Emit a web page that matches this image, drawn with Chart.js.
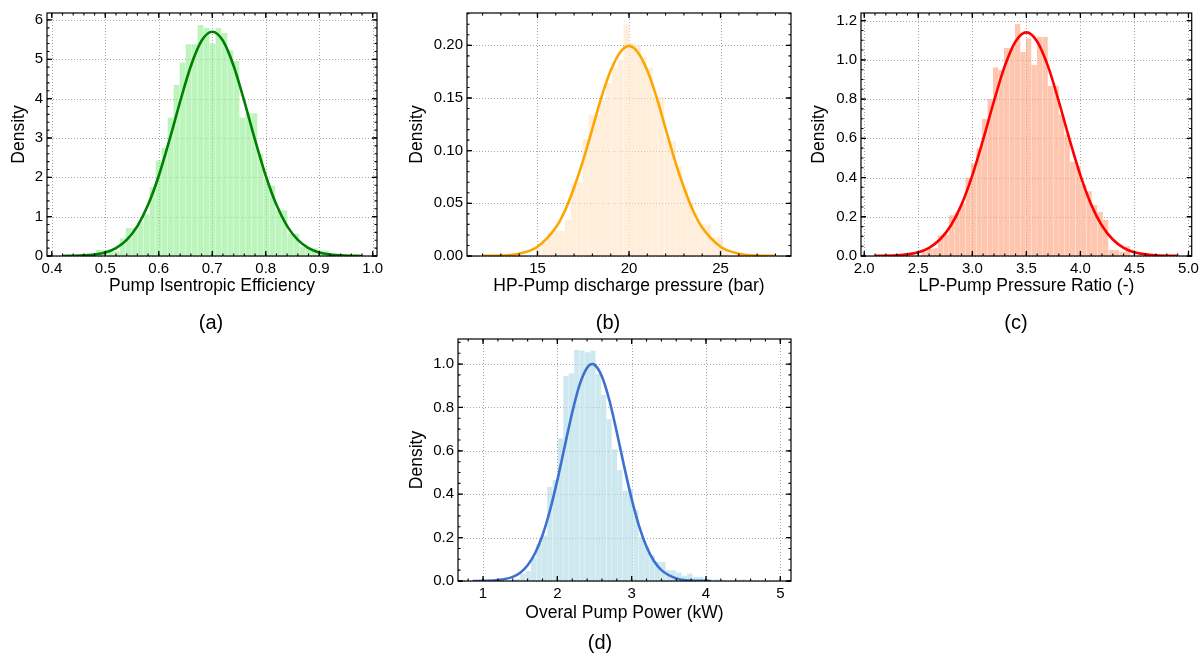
<!DOCTYPE html>
<html lang="en">
<head>
    <meta charset="UTF-8">
    <title>Pump distributions</title>
    <script src="https://cdn.jsdelivr.net/npm/chart.js"></script>
    <style>
        body { margin: 0; background: #fff; }
        #wrap { position: relative; width: 1203px; height: 655px; }
        canvas { position: absolute; left: 0; top: 0; }
        .cap {
            position: absolute;
            font-family: 'Liberation Sans', Arial, sans-serif;
            font-size: 20px;
            line-height: 1;
            color: #000;
            transform: translate(-50%, -50%);
        }
    </style>
</head>
<body>
<div id="wrap">
    <canvas id="chartA" width="1203" height="655"></canvas>
    <canvas id="chartB" width="1203" height="655"></canvas>
    <canvas id="chartC" width="1203" height="655"></canvas>
    <canvas id="chartD" width="1203" height="655"></canvas>
    <div class="cap" style="left:211px; top:322px;">(a)</div>
    <div class="cap" style="left:608px; top:322px;">(b)</div>
    <div class="cap" style="left:1016px; top:322px;">(c)</div>
    <div class="cap" style="left:600px; top:642px;">(d)</div>
</div>

<script>
    // ---- (a) pump isentropic efficiency ----
    const effBinStart = 0.4709;
    const effBinWidth = 0.0112;
    const effDensity = [0.03, 0.16, 0.16, 0.12, 0.12, 0.45, 0.71, 0.71, 0.86, 1.07,
        1.75, 2.43, 2.75, 3.52, 4.35, 4.92, 5.38, 5.38, 5.87, 5.80,
        5.40, 5.80, 5.67, 5.23, 4.96, 3.52, 3.63, 3.63, 2.60, 1.95,
        1.79, 1.16, 1.16, 0.57, 0.57, 0.23, 0.23, 0.20, 0.14, 0.14, 0.05];
    const effCurveX = [0.42, 0.45, 0.48, 0.50, 0.52, 0.54, 0.56, 0.58, 0.60, 0.62, 0.64, 0.66, 0.68, 0.70,
        0.72, 0.74, 0.76, 0.78, 0.80, 0.82, 0.84, 0.86, 0.88, 0.90, 0.92, 0.95, 0.98];
    const effCurveY = [0.00, 0.01, 0.04, 0.09, 0.20, 0.41, 0.76, 1.30, 2.04, 2.95, 3.93, 4.83, 5.47, 5.70,
        5.47, 4.83, 3.93, 2.95, 2.04, 1.30, 0.76, 0.41, 0.20, 0.09, 0.04, 0.01, 0.00];
    const effXTicks = [0.4, 0.5, 0.6, 0.7, 0.8, 0.9, 1.0];
    const effYTicks = [0, 1, 2, 3, 4, 5, 6];

    // ---- (b) HP-pump discharge pressure ----
    const hpBinStart = 14.90;
    const hpBinWidth = 0.32;
    const hpDensity = [0.008, 0.012, 0.022, 0.024, 0.024, 0.034, 0.068, 0.070, 0.111, 0.134,
        0.134, 0.148, 0.164, 0.179, 0.186, 0.220, 0.202, 0.200, 0.189, 0.179,
        0.151, 0.151, 0.113, 0.109, 0.085, 0.065, 0.050, 0.033, 0.030, 0.030,
        0.018, 0.018, 0.006];
    const hpCurveX = [12, 13, 14, 15, 16, 16.5, 17, 17.5, 18, 18.5, 19, 19.5, 20,
        20.5, 21, 21.5, 22, 22.5, 23, 23.5, 24, 25, 26, 27, 28];
    const hpCurveY = [0.0001, 0.0004, 0.0022, 0.0088, 0.027, 0.043, 0.065, 0.091, 0.121, 0.151, 0.176, 0.193, 0.1995,
        0.193, 0.176, 0.151, 0.121, 0.091, 0.065, 0.043, 0.027, 0.0088, 0.0022, 0.0004, 0.0001];
    const hpXTicks = [15, 20, 25];
    const hpYTicks = [0, 0.05, 0.10, 0.15, 0.20];

    // ---- (c) LP-pump pressure ratio ----
    const lpBinStart = 2.5293;
    const lpBinWidth = 0.0509;
    const lpDensity = [0.02, 0.037, 0.04, 0.106, 0.11, 0.208, 0.22, 0.268, 0.40, 0.47,
        0.55, 0.70, 0.80, 0.963, 0.95, 1.06, 1.06, 1.183, 1.04, 1.11,
        0.975, 1.118, 1.118, 0.868, 0.868, 0.72, 0.62, 0.48, 0.46, 0.365,
        0.33, 0.26, 0.225, 0.184, 0.03, 0.03, 0.02, 0.05];
    const lpCurveX = [2.1, 2.3, 2.5, 2.6, 2.7, 2.8, 2.9, 3.0, 3.1, 3.2, 3.3, 3.4, 3.5,
        3.6, 3.7, 3.8, 3.9, 4.0, 4.1, 4.2, 4.3, 4.4, 4.5, 4.7, 4.9];
    const lpCurveY = [0.0004, 0.003, 0.019, 0.042, 0.084, 0.154, 0.262, 0.411, 0.593, 0.789, 0.968, 1.094, 1.14,
        1.094, 0.968, 0.789, 0.593, 0.411, 0.262, 0.154, 0.084, 0.042, 0.019, 0.003, 0.0004];
    const lpXTicks = [2.0, 2.5, 3.0, 3.5, 4.0, 4.5, 5.0];
    const lpYTicks = [0, 0.2, 0.4, 0.6, 0.8, 1.0, 1.2];

    // ---- (d) overall pump power ----
    const powBinStart = 1.428;
    const powBinWidth = 0.0725;
    const powDensity = [0.01, 0.034, 0.046, 0.11, 0.17, 0.21, 0.434, 0.465, 0.658, 0.946,
        0.958, 1.066, 1.063, 1.054, 1.062, 0.955, 0.858, 0.746, 0.607, 0.512,
        0.416, 0.424, 0.327, 0.203, 0.160, 0.119, 0.088, 0.088, 0.049, 0.049,
        0.039, 0.025, 0.034, 0.018, 0.018, 0.010, 0.004, 0.008, 0.004, 0,
        0, 0.004, 0.008, 0.004];
    const powCurveX = [0.86, 1.0, 1.2, 1.4, 1.5, 1.6, 1.7, 1.8, 1.9, 2.0, 2.1, 2.2, 2.3, 2.4, 2.47,
        2.5, 2.6, 2.7, 2.8, 2.9, 3.0, 3.1, 3.2, 3.3, 3.4, 3.6, 3.8, 4.07];
    const powCurveY = [0.0001, 0.0006, 0.004, 0.019, 0.038, 0.073, 0.128, 0.211, 0.325, 0.465, 0.622, 0.777, 0.905, 0.983, 1.0,
        0.997, 0.943, 0.833, 0.686, 0.527, 0.378, 0.253, 0.158, 0.092, 0.050, 0.012, 0.002, 0.0001];
    const powXTicks = [1, 2, 3, 4, 5];
    const powYTicks = [0, 0.2, 0.4, 0.6, 0.8, 1.0];

    // ---- layout / style ----
    const FONT = "'Liberation Sans', Arial, sans-serif";
    const TICK_SIZE = 15;
    const TITLE_SIZE = 17.5;
    const TITLE_PAD = 4;
    Chart.defaults.font.family = FONT;
    Chart.defaults.color = '#000';

    // grid, box and inward ticks on all four sides (matplotlib "science" look)
    const framePlugin = {
        id: 'frame',
        beforeDatasetsDraw(chart, args, opts) {
            const { ctx, chartArea: a } = chart;
            const xs = chart.scales.x, ys = chart.scales.y;
            ctx.save();
            ctx.strokeStyle = '#a6a6a6';
            ctx.lineWidth = 1;
            ctx.setLineDash([1, 2]);
            opts.xMajor.forEach(v => {
                const px = Math.round(xs.getPixelForValue(v)) + 0.5;
                ctx.beginPath(); ctx.moveTo(px, a.top); ctx.lineTo(px, a.bottom); ctx.stroke();
            });
            opts.yMajor.forEach(v => {
                const py = Math.round(ys.getPixelForValue(v)) + 0.5;
                ctx.beginPath(); ctx.moveTo(a.left, py); ctx.lineTo(a.right, py); ctx.stroke();
            });
            ctx.restore();
        },
        afterDatasetsDraw(chart, args, opts) {
            const { ctx, chartArea: a } = chart;
            const xs = chart.scales.x, ys = chart.scales.y;
            const minors = (step, lo, hi) => {
                const out = [];
                for (let k = Math.ceil(lo / step - 1e-9); k * step <= hi + 1e-9; k++) out.push(k * step);
                return out;
            };
            ctx.save();
            ctx.strokeStyle = '#000';
            ctx.lineWidth = 1.1;
            const tickX = (v, len) => {
                const px = xs.getPixelForValue(v);
                ctx.beginPath();
                ctx.moveTo(px, a.bottom); ctx.lineTo(px, a.bottom - len);
                ctx.moveTo(px, a.top); ctx.lineTo(px, a.top + len);
                ctx.stroke();
            };
            const tickY = (v, len) => {
                const py = ys.getPixelForValue(v);
                ctx.beginPath();
                ctx.moveTo(a.left, py); ctx.lineTo(a.left + len, py);
                ctx.moveTo(a.right, py); ctx.lineTo(a.right - len, py);
                ctx.stroke();
            };
            minors(opts.xMinor, xs.min, xs.max).forEach(v => tickX(v, 2.5));
            minors(opts.yMinor, ys.min, ys.max).forEach(v => tickY(v, 2.5));
            ctx.lineWidth = 1.3;
            opts.xMajor.forEach(v => tickX(v, 5));
            opts.yMajor.forEach(v => tickY(v, 5));
            ctx.lineWidth = 1.2;
            ctx.strokeRect(a.left, a.top, a.right - a.left, a.bottom - a.top);
            ctx.restore();
        }
    };

    function drawPanel(id, p) {
        const bars = p.density.map((d, i) => ({ x: p.binStart + (i + 0.5) * p.binWidth, y: d }));
        const curve = p.curveX.map((x, i) => ({ x: x, y: p.curveY[i] }));
        const [left, top, right, bottom] = p.area;
        const yScaleLeft = p.yTitleX - TITLE_PAD - TITLE_SIZE * 0.6;
        const xAxisH = p.xTitleY - bottom + TITLE_SIZE * 0.6;

        new Chart(document.getElementById(id), {
            type: 'bar',
            data: {
                datasets: [
                    {
                        type: 'line',
                        data: curve,
                        borderColor: p.lineColor,
                        borderWidth: 2.6,
                        pointRadius: 0,
                        fill: false,
                        cubicInterpolationMode: 'monotone',
                        order: 0
                    },
                    {
                        type: 'bar',
                        data: bars,
                        backgroundColor: p.barColor,
                        borderColor: 'rgba(255,255,255,0.7)',
                        borderWidth: { left: 0, right: 0.5, top: 0, bottom: 0 },
                        borderSkipped: false,
                        barPercentage: 1,
                        categoryPercentage: 1,
                        order: 1
                    }
                ]
            },
            options: {
                responsive: false,
                animation: false,
                events: [],
                layout: {
                    padding: { left: yScaleLeft, top: top, right: 1203 - right, bottom: 655 - bottom - xAxisH }
                },
                plugins: {
                    legend: { display: false },
                    tooltip: { enabled: false },
                    frame: { xMajor: p.xTicks, yMajor: p.yTicks, xMinor: p.xMinor, yMinor: p.yMinor }
                },
                scales: {
                    x: {
                        type: 'linear',
                        min: p.xRange[0],
                        max: p.xRange[1],
                        offset: false,
                        grid: { display: false, drawTicks: false },
                        border: { display: false },
                        afterBuildTicks: s => { s.ticks = p.xTicks.map(v => ({ value: v })); },
                        afterFit: s => { s.height = xAxisH; },
                        ticks: {
                            autoSkip: false,
                            maxRotation: 0,
                            padding: 4,
                            font: { size: TICK_SIZE },
                            callback: v => v.toFixed(p.xDec)
                        },
                        title: {
                            display: true,
                            text: p.xTitle,
                            font: { size: TITLE_SIZE },
                            padding: { top: 0, bottom: 0 }
                        }
                    },
                    y: {
                        min: 0,
                        max: p.yMax,
                        grid: { display: false, drawTicks: false },
                        border: { display: false },
                        afterBuildTicks: s => { s.ticks = p.yTicks.map(v => ({ value: v })); },
                        afterFit: s => { s.width = left - yScaleLeft; },
                        ticks: {
                            autoSkip: false,
                            padding: 4,
                            font: { size: TICK_SIZE },
                            callback: v => v.toFixed(p.yDec)
                        },
                        title: {
                            display: true,
                            text: 'Density',
                            font: { size: TITLE_SIZE },
                            padding: { top: TITLE_PAD, bottom: 0 }
                        }
                    }
                }
            },
            plugins: [framePlugin]
        });
    }

    drawPanel('chartA', {
        binStart: effBinStart, binWidth: effBinWidth, density: effDensity,
        curveX: effCurveX, curveY: effCurveY, xTicks: effXTicks, yTicks: effYTicks,
        xMinor: 0.02, yMinor: 0.2, xDec: 1, yDec: 0,
        area: [47, 12, 377, 256], xRange: [0.391, 1.008], yMax: 6.177,
        yTitleX: 19.5, xTitleY: 286,
        xTitle: 'Pump Isentropic Efficiency',
        barColor: 'rgba(144,238,144,0.6)', lineColor: '#008000'
    });

    drawPanel('chartB', {
        binStart: hpBinStart, binWidth: hpBinWidth, density: hpDensity,
        curveX: hpCurveX, curveY: hpCurveY, xTicks: hpXTicks, yTicks: hpYTicks,
        xMinor: 1, yMinor: 0.01, xDec: 0, yDec: 2,
        area: [467, 13, 791, 256], xRange: [11.15, 28.85], yMax: 0.2307,
        yTitleX: 417, xTitleY: 286,
        xTitle: 'HP-Pump discharge pressure (bar)',
        barColor: 'rgba(255,224,185,0.55)', lineColor: '#ffa500'
    });

    drawPanel('chartC', {
        binStart: lpBinStart, binWidth: lpBinWidth, density: lpDensity,
        curveX: lpCurveX, curveY: lpCurveY, xTicks: lpXTicks, yTicks: lpYTicks,
        xMinor: 0.1, yMinor: 0.05, xDec: 1, yDec: 1,
        area: [861, 13, 1193, 256], xRange: [1.97, 5.03], yMax: 1.239,
        yTitleX: 819, xTitleY: 286,
        xTitle: 'LP-Pump Pressure Ratio (-)',
        barColor: 'rgba(255,160,122,0.6)', lineColor: '#ff0000'
    });

    drawPanel('chartD', {
        binStart: powBinStart, binWidth: powBinWidth, density: powDensity,
        curveX: powCurveX, curveY: powCurveY, xTicks: powXTicks, yTicks: powYTicks,
        xMinor: 0.2, yMinor: 0.05, xDec: 0, yDec: 1,
        area: [458, 339, 791, 581], xRange: [0.663, 5.144], yMax: 1.1155,
        yTitleX: 416.7, xTitleY: 613,
        xTitle: 'Overal Pump Power (kW)',
        barColor: 'rgba(173,216,230,0.6)', lineColor: '#3d70d0'
    });
</script>
</body>
</html>
